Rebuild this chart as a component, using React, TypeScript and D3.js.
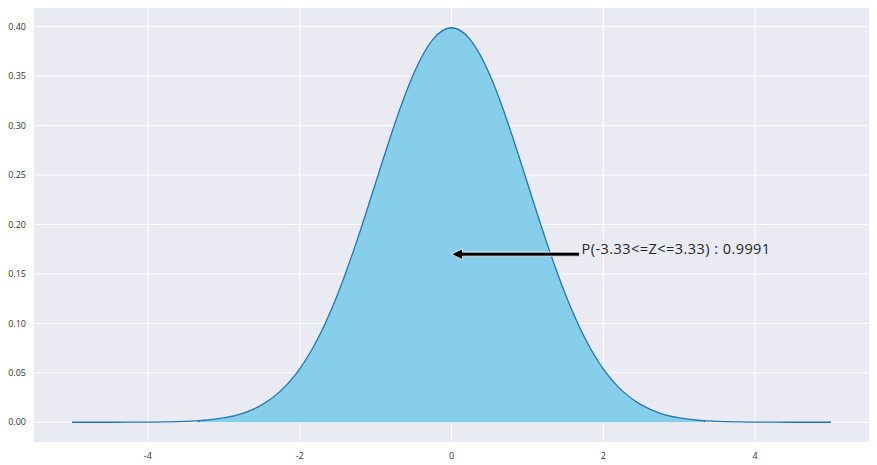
import React, { useRef, useEffect } from 'react';
import * as d3 from 'd3';

// values (standard normal density)
const zValues = [
  -5, -4.75, -4.5, -4.25, -4, -3.75, -3.5, -3.33, -3.25, -3, -2.75, -2.5, -2.25, -2, -1.75, -1.5, -1.25, -1,
  -0.75, -0.5, -0.25, 0, 0.25, 0.5, 0.75, 1, 1.25, 1.5, 1.75, 2, 2.25, 2.5, 2.75, 3, 3.25, 3.33, 3.5, 3.75,
  4, 4.25, 4.5, 4.75, 5,
];
const densities = [
  0.0000015, 0.000005, 0.000016, 0.000049, 0.000134, 0.000353, 0.00087, 0.00156, 0.00203, 0.00443, 0.00909,
  0.01753, 0.03174, 0.05399, 0.08628, 0.12952, 0.18265, 0.24197, 0.30114, 0.35207, 0.38667, 0.39894, 0.38667,
  0.35207, 0.30114, 0.24197, 0.18265, 0.12952, 0.08628, 0.05399, 0.03174, 0.01753, 0.00909, 0.00443, 0.00203,
  0.00156, 0.00087, 0.000353, 0.000134, 0.000049, 0.000016, 0.000005, 0.0000015,
];
const fillRange = [-3.33, 3.33];
const xTicks = [-4, -2, 0, 2, 4];
const yTicks = [0, 0.05, 0.1, 0.15, 0.2, 0.25, 0.3, 0.35, 0.4];
const annotationText = 'P(-3.33<=Z<=3.33) : 0.9991';
const arrowTip = [0, 0.17];
const textPos = [1.7, 0.17];

const App: React.FC = () => {
  const svgRef = useRef<SVGSVGElement | null>(null);

  useEffect(() => {
    const W = 877;
    const H = 465;
    const margin = { top: 8, right: 8, bottom: 23, left: 34 };
    const width = W - margin.left - margin.right;
    const height = H - margin.top - margin.bottom;
    const font = '"Open Sans", "Noto Sans", sans-serif';

    const root = d3.select(svgRef.current);
    root.selectAll('*').remove();
    root.attr('width', W).attr('height', H);

    const svg = root.append('g').attr('transform', `translate(${margin.left},${margin.top})`);

    const x = d3.scaleLinear().domain([-5.5, 5.5]).range([0, width]);
    const y = d3.scaleLinear().domain([-0.01995, 0.4189]).range([height, 0]);

    svg.append('rect').attr('width', width).attr('height', height).attr('fill', '#EAEAF2');

    // grid
    svg
      .selectAll('.gx')
      .data(xTicks)
      .enter()
      .append('line')
      .attr('x1', (d) => x(d))
      .attr('x2', (d) => x(d))
      .attr('y1', 0)
      .attr('y2', height)
      .attr('stroke', '#fff')
      .attr('stroke-width', 1);
    svg
      .selectAll('.gy')
      .data(yTicks)
      .enter()
      .append('line')
      .attr('x1', 0)
      .attr('x2', width)
      .attr('y1', (d) => y(d))
      .attr('y2', (d) => y(d))
      .attr('stroke', '#fff')
      .attr('stroke-width', 1);

    // tick labels
    svg
      .selectAll('.tx')
      .data(xTicks)
      .enter()
      .append('text')
      .attr('x', (d) => x(d))
      .attr('y', height + 17)
      .attr('text-anchor', 'middle')
      .style('font-family', font)
      .style('font-size', '9px')
      .attr('fill', '#333')
      .text((d) => String(d));
    svg
      .selectAll('.ty')
      .data(yTicks)
      .enter()
      .append('text')
      .attr('x', -8)
      .attr('y', (d) => y(d))
      .attr('dy', '0.35em')
      .attr('text-anchor', 'end')
      .style('font-family', font)
      .style('font-size', '9px')
      .attr('fill', '#333')
      .text((d) => d.toFixed(2));

    const pts: [number, number][] = zValues.map((z, i) => [z, densities[i]]);
    const fillPts = pts.filter((p) => p[0] >= fillRange[0] && p[0] <= fillRange[1]);

    const area = d3
      .area<[number, number]>()
      .curve(d3.curveNatural)
      .x((p) => x(p[0]))
      .y0(y(0))
      .y1((p) => y(p[1]));
    svg.append('path').datum(fillPts).attr('d', area).attr('fill', '#87CEEB');

    // small edges of the filled region
    svg
      .selectAll('.edge')
      .data(fillRange)
      .enter()
      .append('line')
      .attr('x1', (d) => x(d))
      .attr('x2', (d) => x(d))
      .attr('y1', y(0))
      .attr('y2', y(0) - 1.5)
      .attr('stroke', '#1a4a6e')
      .attr('stroke-width', 1.2);

    const line = d3
      .line<[number, number]>()
      .curve(d3.curveNatural)
      .x((p) => x(p[0]))
      .y((p) => y(p[1]));
    svg
      .append('path')
      .datum(pts)
      .attr('d', line)
      .attr('fill', 'none')
      .attr('stroke', '#1f77b4')
      .attr('stroke-width', 1.3);

    // annotation arrow
    const tx = x(arrowTip[0]);
    const ty = y(arrowTip[1]);
    const sx = x(textPos[0]) - 1;
    const headLen = 11;
    const headHalf = 5.5;
    const shaftHalf = 2;
    const arrowPts: [number, number][] = [
      [tx, ty],
      [tx + headLen, ty - headHalf],
      [tx + headLen, ty - shaftHalf],
      [sx, ty - shaftHalf],
      [sx, ty + shaftHalf],
      [tx + headLen, ty + shaftHalf],
      [tx + headLen, ty + headHalf],
    ];
    svg
      .append('polygon')
      .attr('points', arrowPts.map((p) => p.join(',')).join(' '))
      .attr('fill', '#000')
      .attr('stroke', '#fff')
      .attr('stroke-width', 0.8);

    svg
      .append('text')
      .attr('x', x(textPos[0]) + 1)
      .attr('y', y(textPos[1]))
      .style('font-family', font)
      .style('font-size', '14.5px')
      .style('letter-spacing', '0.45px')
      .attr('fill', '#262626')
      .text(annotationText);
  }, []);

  return <svg ref={svgRef} style={{ position: 'absolute', left: 0, top: 0, display: 'block' }}></svg>;
};

export default App;
